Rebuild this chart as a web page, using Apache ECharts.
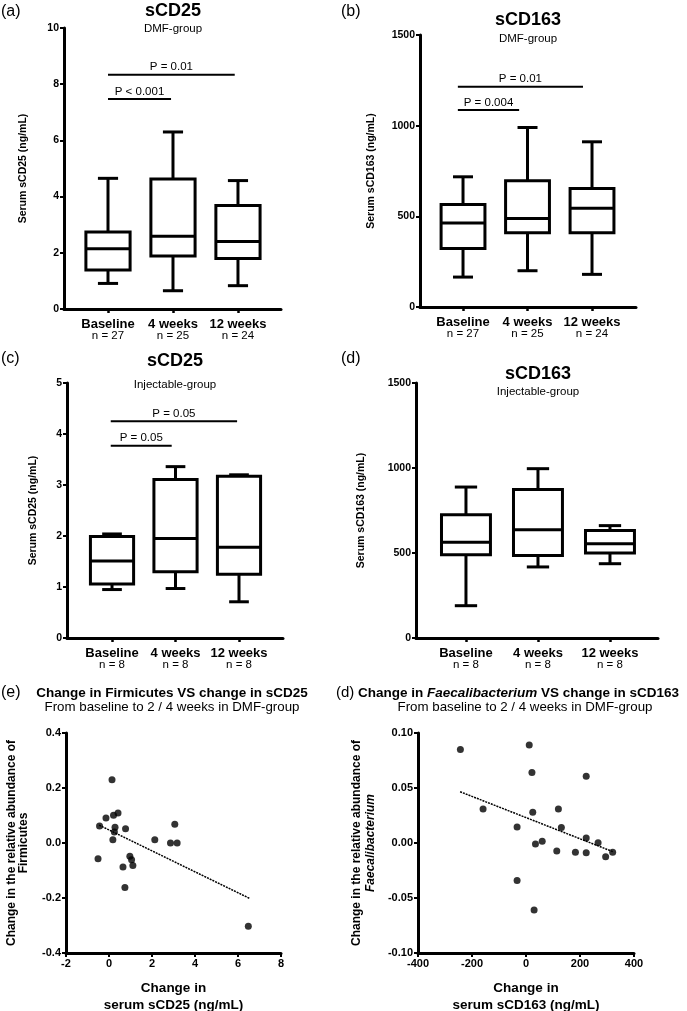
<!DOCTYPE html>
<html><head><meta charset="utf-8">
<script src="https://cdn.jsdelivr.net/npm/echarts@6/dist/echarts.min.js"></script>
<style>html,body{margin:0;padding:0;background:#fff}#c{width:687px;height:1011px}</style>
</head><body><div id="c"></div>
<script>
// ---------- DATA ----------
const categories = ['Baseline', '4 weeks', '12 weeks'];
const nDMF = ['n = 27', 'n = 25', 'n = 24'];
const nInj = ['n = 8', 'n = 8', 'n = 8'];
// box values: [min, Q1, median, Q3, max]
const sCD25DMF = [[0.91, 1.39, 2.14, 2.74, 4.65], [0.65, 1.89, 2.59, 4.63, 6.30], [0.83, 1.80, 2.40, 3.68, 4.57]];
const sCD163DMF = [[165, 323, 463, 565, 718], [200, 409, 488, 696, 990], [180, 409, 545, 654, 911]];
const sCD25Inj = [[0.95, 1.06, 1.51, 1.99, 2.04], [0.97, 1.30, 1.95, 3.11, 3.36], [0.71, 1.25, 1.78, 3.17, 3.20]];
const sCD163Inj = [[190, 490, 563, 725, 888], [418, 486, 637, 873, 996], [437, 500, 555, 633, 661]];
// significance bars: [fromX, toX, y]
const sigA = [[0, 0.97, 7.47], [0, 1.95, 8.34]];
const sigALabels = ['P < 0.001', 'P = 0.01'];
const sigB = [[-0.08, 0.87, 1087], [-0.08, 1.86, 1215]];
const sigBLabels = ['P = 0.004', 'P = 0.01'];
const sigC = [[-0.02, 0.94, 3.77], [-0.02, 1.97, 4.25]];
const sigCLabels = ['P = 0.05', 'P = 0.05'];
// scatter: [change in serum sCD25, change in Firmicutes]
const firmicutesPts = [[0.14, 0.230], [-0.51, -0.057], [-0.44, 0.062], [-0.14, 0.091], [0.21, 0.101], [0.42, 0.109],
  [0.28, 0.057], [0.25, 0.040], [0.18, 0.012], [0.77, 0.052], [0.65, -0.087], [0.97, -0.048], [1.05, -0.061],
  [1.11, -0.082], [0.74, -0.162], [2.13, 0.012], [2.86, 0.0], [3.17, 0.0], [3.06, 0.068], [6.48, -0.303]];
const firmicutesFit = [[-0.46, 0.065], [6.53, -0.201]];
// scatter: [change in serum sCD163, change in Faecalibacterium]
const faecaliPts = [[-243, 0.085], [-159, 0.031], [-33, 0.0145], [-33, -0.034], [12, 0.089], [22, 0.064], [25, 0.028],
  [30, -0.061], [35, -0.001], [60, 0.0015], [120, 0.031], [131, 0.014], [114, -0.0073], [183, -0.0085], [223, 0.0606],
  [223, 0.0045], [223, -0.0088], [267, 0.0003], [295, -0.0124], [321, -0.0085]];
const faecaliFit = [[-244, 0.0466], [322, -0.0079]];

// ---------- STYLE ----------
const FONT = '"Liberation Sans", Arial, Helvetica, sans-serif';
const BLACK = '#000';

function boxRender(params, api) {
  const x = api.value(0);
  const pMin = api.coord([x, api.value(1)]);
  const pQ1 = api.coord([x, api.value(2)]);
  const pMed = api.coord([x, api.value(3)]);
  const pQ3 = api.coord([x, api.value(4)]);
  const pMax = api.coord([x, api.value(5)]);
  const unit = api.size([1, 0])[0];
  const bw = unit * 0.68, hw = bw / 2, cw = unit * 0.155;
  const cx = pMin[0];
  const st = { stroke: BLACK, lineWidth: 3, fill: null };
  return {
    type: 'group', children: [
      { type: 'line', shape: { x1: cx, y1: pQ3[1], x2: cx, y2: pMax[1] }, style: st },
      { type: 'line', shape: { x1: cx - cw, y1: pMax[1], x2: cx + cw, y2: pMax[1] }, style: st },
      { type: 'line', shape: { x1: cx, y1: pQ1[1], x2: cx, y2: pMin[1] }, style: st },
      { type: 'line', shape: { x1: cx - cw, y1: pMin[1], x2: cx + cw, y2: pMin[1] }, style: st },
      { type: 'rect', shape: { x: cx - hw, y: pQ3[1], width: bw, height: pQ1[1] - pQ3[1] }, style: { stroke: BLACK, lineWidth: 3, fill: '#fff' } },
      { type: 'line', shape: { x1: cx - hw, y1: pMed[1], x2: cx + hw, y2: pMed[1] }, style: st }
    ]
  };
}
function sigRender(labels) {
  return function (params, api) {
    const p0 = api.coord([api.value(0), api.value(2)]);
    const p1 = api.coord([api.value(1), api.value(2)]);
    return {
      type: 'group', children: [
        { type: 'line', shape: { x1: p0[0], y1: p0[1], x2: p1[0], y2: p1[1] }, style: { stroke: BLACK, lineWidth: 2 } },
        { type: 'text', x: (p0[0] + p1[0]) / 2, y: p0[1] - 1.5, style: { text: labels[params.dataIndex], font: '11.5px ' + FONT, fill: BLACK, align: 'center', verticalAlign: 'bottom' } }
      ]
    };
  };
}

const grids = [
  { left: 64, top: 28, width: 217, height: 281 },
  { left: 420, top: 35, width: 216, height: 272 },
  { left: 67, top: 383, width: 216, height: 255 },
  { left: 416, top: 383, width: 242, height: 255 },
  { left: 66, top: 733, width: 215, height: 220 },
  { left: 418, top: 733, width: 216, height: 220 }
].map(g => Object.assign({ outerBoundsMode: 'none', containLabel: false }, g));

function catXAxis(gi, min, max, nLabels) {
  return {
    gridIndex: gi, type: 'value', min: min, max: max,
    axisLine: { show: true, onZero: false, lineStyle: { color: BLACK, width: 3 } },
    axisTick: { show: true, customValues: [0, 1, 2], length: 4, lineStyle: { color: BLACK, width: 2.5 } },
    axisLabel: {
      customValues: [0, 1, 2], margin: 9,
      formatter: v => { const i = Math.round(v); return '{b|' + categories[i] + '}\n{n|' + nLabels[i] + '}'; },
      rich: {
        b: { fontFamily: FONT, fontWeight: 'bold', fontSize: 13, lineHeight: 12, color: BLACK },
        n: { fontFamily: FONT, fontSize: 11.5, lineHeight: 12, color: BLACK }
      }
    },
    splitLine: { show: false }
  };
}
function valYAxis(gi, max, interval, name, gap) {
  return {
    gridIndex: gi, type: 'value', min: 0, max: max, interval: interval,
    axisLine: { show: true, onZero: false, lineStyle: { color: BLACK, width: 3 } },
    axisTick: { show: true, length: 4, lineStyle: { color: BLACK, width: 2 } },
    axisLabel: { fontFamily: FONT, fontSize: 10.5, fontWeight: 'bold', color: BLACK, margin: 5, formatter: v => String(Math.round(v)) },
    splitLine: { show: false },
    name: name, nameLocation: 'middle', nameGap: gap,
    nameTextStyle: { fontFamily: FONT, fontSize: 10.5, fontWeight: 'bold', color: BLACK }
  };
}
function scatAxis(gi, min, max, interval, dec, name, gap, extra) {
  return Object.assign({
    gridIndex: gi, type: 'value', min: min, max: max, interval: interval,
    axisLine: { show: true, onZero: false, lineStyle: { color: BLACK, width: 3 } },
    axisTick: { show: true, length: 4, lineStyle: { color: BLACK, width: 2 } },
    axisLabel: { fontFamily: FONT, fontSize: 11, fontWeight: 'bold', color: BLACK, margin: 5, formatter: v => dec >= 0 ? (Math.abs(v) < 1e-9 ? 0 : v).toFixed(dec) : String(Math.round(v)) },
    splitLine: { show: false },
    name: name, nameLocation: 'middle', nameGap: gap
  }, extra);
}

const xAxes = [
  catXAxis(0, -0.677, 2.662, nDMF),
  catXAxis(1, -0.667, 2.682, nDMF),
  catXAxis(2, -0.709, 2.693, nInj),
  catXAxis(3, -0.694, 2.667, nInj),
  scatAxis(4, -2, 8, 2, -1, 'Change in\nserum sCD25 (ng/mL)', 27,
    { nameTextStyle: { fontFamily: FONT, fontSize: 13.5, fontWeight: 'bold', color: BLACK, lineHeight: 17 } }),
  scatAxis(5, -400, 400, 200, -1, 'Change in\nserum sCD163 (ng/mL)', 27,
    { nameTextStyle: { fontFamily: FONT, fontSize: 13.5, fontWeight: 'bold', color: BLACK, lineHeight: 17 } })
];
const yAxes = [
  valYAxis(0, 10, 2, 'Serum sCD25 (ng/mL)', 35),
  valYAxis(1, 1500, 500, 'Serum sCD163 (ng/mL)', 43),
  valYAxis(2, 5, 1, 'Serum sCD25 (ng/mL)', 28),
  valYAxis(3, 1500, 500, 'Serum sCD163 (ng/mL)', 49),
  scatAxis(4, -0.4, 0.4, 0.2, 1, 'Change in the relative abundance of\nFirmicutes', 36,
    { nameTextStyle: { fontFamily: FONT, fontSize: 12, fontWeight: 'bold', color: BLACK, lineHeight: 12 } }),
  scatAxis(5, -0.1, 0.1, 0.05, 2, 'Change in the relative abundance of\n{i|Faecalibacterium}', 40,
    { nameTextStyle: { fontFamily: FONT, fontSize: 12, fontWeight: 'bold', color: BLACK, lineHeight: 14,
      rich: { i: { fontFamily: FONT, fontSize: 12, fontWeight: 'bold', fontStyle: 'italic', color: BLACK, lineHeight: 14 } } } })
];

const boxSeries = [sCD25DMF, sCD163DMF, sCD25Inj, sCD163Inj].map((arr, gi) => ({
  type: 'custom', xAxisIndex: gi, yAxisIndex: gi, renderItem: boxRender, clip: false,
  data: arr.map((d, i) => [i].concat(d))
}));
const sigSeries = [[sigA, sigALabels, 0], [sigB, sigBLabels, 1], [sigC, sigCLabels, 2]].map(s => ({
  type: 'custom', xAxisIndex: s[2], yAxisIndex: s[2], renderItem: sigRender(s[1]), clip: false, data: s[0]
}));
const scatterSeries = [
  { type: 'scatter', xAxisIndex: 4, yAxisIndex: 4, data: firmicutesPts, symbolSize: 7, itemStyle: { color: BLACK } },
  { type: 'line', xAxisIndex: 4, yAxisIndex: 4, data: firmicutesFit, symbol: 'none', lineStyle: { color: BLACK, width: 1.5, type: [2, 1] } },
  { type: 'scatter', xAxisIndex: 5, yAxisIndex: 5, data: faecaliPts, symbolSize: 7, itemStyle: { color: BLACK } },
  { type: 'line', xAxisIndex: 5, yAxisIndex: 5, data: faecaliFit, symbol: 'none', lineStyle: { color: BLACK, width: 1.5, type: [2, 1] } }
];

function txt(x, y, text, size, weight, align, rich) {
  const style = { text: text, font: (weight ? 'bold ' : '') + size + 'px ' + FONT, fill: BLACK, align: align || 'center', verticalAlign: 'middle' };
  if (rich) style.rich = rich;
  return { type: 'text', x: x, y: y, style: style };
}
const italicRich = { i: { fontFamily: FONT, fontSize: 13.5, fontWeight: 'bold', fontStyle: 'italic', fill: BLACK } };
const graphics = [
  txt(1, 12, '(a)', 16, false, 'left'),
  txt(173, 11, 'sCD25', 18, true),
  txt(173, 29, 'DMF-group', 11.5, false),
  txt(341, 12, '(b)', 16, false, 'left'),
  txt(528, 20, 'sCD163', 18, true),
  txt(528, 39, 'DMF-group', 11.5, false),
  txt(1, 359, '(c)', 16, false, 'left'),
  txt(175, 361, 'sCD25', 18, true),
  txt(175, 385, 'Injectable-group', 11.5, false),
  txt(341, 359, '(d)', 16, false, 'left'),
  txt(538, 374, 'sCD163', 18, true),
  txt(538, 392, 'Injectable-group', 11.5, false),
  txt(1, 693, '(e)', 16, false, 'left'),
  txt(172, 693, 'Change in Firmicutes VS change in sCD25', 13.5, true),
  txt(172, 707, 'From baseline to 2 / 4 weeks in DMF-group', 13.3, false),
  txt(336, 693, '(d)', 15, false, 'left'),
  txt(358, 693, 'Change in {i|Faecalibacterium} VS change in sCD163', 13.5, true, 'left', italicRich),
  txt(525, 707, 'From baseline to 2 / 4 weeks in DMF-group', 13.3, false)
];

const chart = echarts.init(document.getElementById('c'), null, { renderer: 'canvas' });
chart.setOption({
  animation: false,
  backgroundColor: '#fff',
  textStyle: { fontFamily: FONT },
  grid: grids,
  xAxis: xAxes,
  yAxis: yAxes,
  series: boxSeries.concat(sigSeries, scatterSeries),
  graphic: graphics
});
</script></body></html>
